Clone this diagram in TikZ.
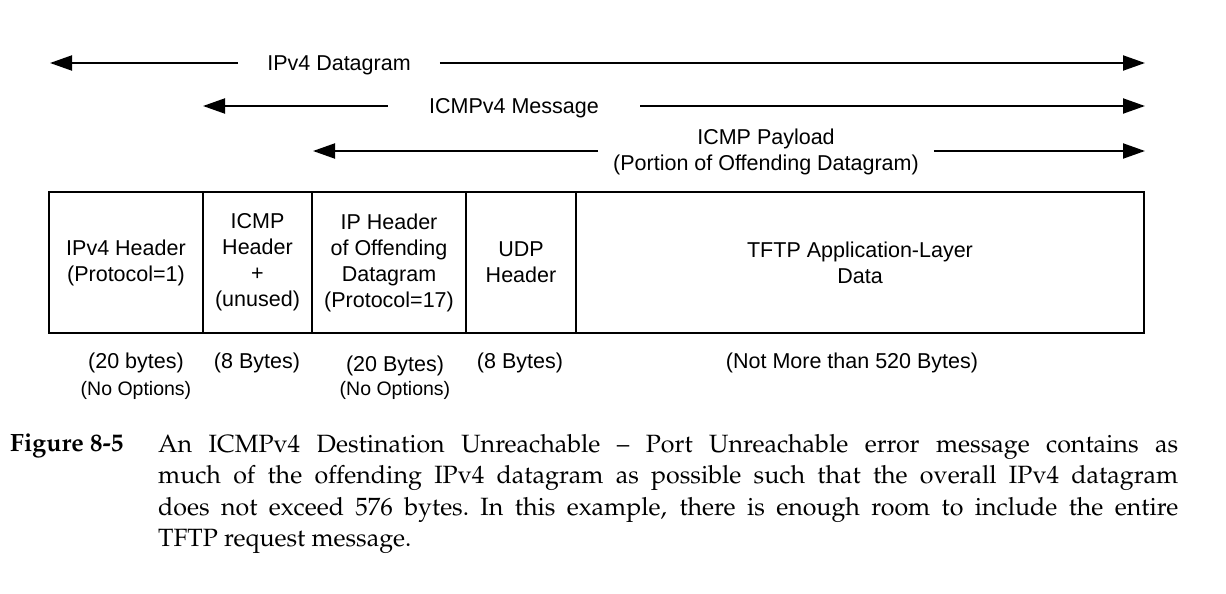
\documentclass[tikz,border=0pt]{standalone}
\usepackage[T1]{fontenc}
\usepackage{fontspec}
\setmainfont{Liberation Sans}
\usetikzlibrary{arrows.meta,positioning}

\newcommand{\capfont}{\fontencoding{T1}\fontfamily{ppl}\selectfont}
\newcommand{\bigtxt}{\fontsize{21.5}{26}\selectfont}
\newcommand{\smalltxt}{\fontsize{19.5}{23}\selectfont}

\tikzset{
  span/.style = {line width=2pt, -{Triangle[length=22pt,width=15pt]}},
  lbl/.style = {font=\bigtxt, align=center, inner ysep=0pt},
  field/.style = {draw, line width=1.6pt, minimum height=141pt, anchor=north west,
                  align=center, font=\bigtxt, inner sep=0pt, outer sep=0pt},
  size/.style = {font=\bigtxt, align=center, inner sep=0pt},
  note/.style = {font=\smalltxt, align=center, inner sep=0pt}
}

\begin{document}
\begin{tikzpicture}[x=1pt, y=-1pt]
\useasboundingbox (0,0) rectangle (1226,594);

% spans over the datagram
\node[lbl, inner xsep=29pt] (dgram) at (339,65) {IPv4 Datagram};
\coordinate (dgramL) at (50,63);
\coordinate (dgramR) at (1145,63);
\draw[span] (dgram.west |- dgramL) -- (dgramL);
\draw[span] (dgram.east |- dgramR) -- (dgramR);

\node[lbl, inner xsep=41pt] (msg) at (514,108) {ICMPv4 Message};
\coordinate (msgL) at (203,106);
\coordinate (msgR) at (1145,106);
\draw[span] (msg.west |- msgL) -- (msgL);
\draw[span] (msg.east |- msgR) -- (msgR);

\node[lbl, inner xsep=15pt] (pay) at (766,152) {ICMP Payload\\(Portion of Offending Datagram)};
\coordinate (payL) at (313,151);
\coordinate (payR) at (1145,151);
\draw[span] (pay.west |- payL) -- (payL);
\draw[span] (pay.east |- payR) -- (payR);

% the fields
\node[field, minimum width=154pt] (ipv4) at (49,192) {IPv4 Header\\(Protocol=1)};
\node[field, minimum width=109pt, right=0pt of ipv4.north east, anchor=north west] (icmp) {ICMP\\Header\\+\\(unused)};
\node[field, minimum width=154pt, right=0pt of icmp.north east, anchor=north west] (iphdr) {IP Header\\of Offending\\Datagram\\(Protocol=17)};
\node[field, minimum width=110pt, right=0pt of iphdr.north east, anchor=north west] (udp) {UDP\\Header};
\node[field, minimum width=568pt, right=0pt of udp.north east, anchor=north west] (tftp) {TFTP Application-Layer\\Data};

% sizes
\node[size] (s1) at (136,363) {(20 bytes)};
\node[note] (n1) at (136,390) {(No Options)};
\node[size] (s2) at (257,363) {(8 Bytes)};
\node[size] (s3) at (395,366) {(20 Bytes)};
\node[note] (n3) at (395,390) {(No Options)};
\node[size] (s4) at (520,363) {(8 Bytes)};
\node[size] (s5) at (852,363) {(Not More than 520 Bytes)};

% caption
\node[anchor=north west, inner sep=0pt, font=\capfont\fontseries{b}\fontsize{25}{31.5}\selectfont] (fig) at (10,434) {Figure 8-5};
\node[anchor=north west, inner sep=0pt, text width=1020pt, align=justify,
      font=\capfont\fontsize{25}{31.5}\selectfont] (cap) at (158,434)
  {An ICMPv4 Destination Unreachable -- Port Unreachable error message contains as\linebreak
   much of the offending IPv4 datagram as possible such that the overall IPv4 datagram\linebreak
   does not exceed 576 bytes.\ In this example, there is enough room to include the entire\linebreak
   TFTP request message.};

\end{tikzpicture}
\end{document}
